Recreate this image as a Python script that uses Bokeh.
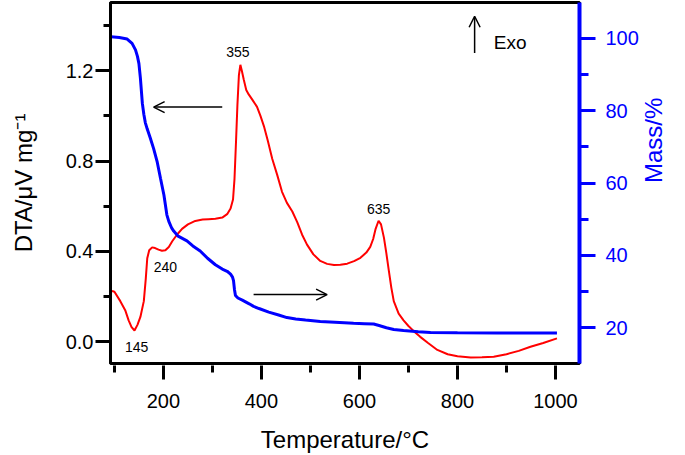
import math
from bokeh.plotting import figure
from bokeh.models import Range1d, LinearAxis, FixedTicker, Arrow, OpenHead, Label
from bokeh.embed import file_html
from bokeh.resources import INLINE

# DTA curve (red)
dta_t = [95, 100, 112, 122, 129, 135, 141, 147, 153, 160, 164, 167, 171, 177, 183, 190, 197, 204, 211, 218,
         228, 238, 250, 265, 280, 292, 306, 320, 330, 337, 342, 345, 348, 351, 354, 357, 360, 364, 369, 374,
         382, 391, 398, 405, 413, 422, 432, 442, 452, 463, 473, 483, 493, 506, 520, 534, 548, 561, 575, 589,
         602, 614, 622, 628, 633, 639, 644, 650, 655, 660, 665, 670, 680, 690, 700, 712, 724, 740, 759, 780,
         800, 827, 850, 874, 900, 925, 949, 975, 1003]
dta_v = [0.225, 0.222, 0.18, 0.14, 0.095, 0.065, 0.05, 0.075, 0.11, 0.18, 0.28, 0.37, 0.405, 0.418, 0.415, 0.408, 0.403, 0.405, 0.42, 0.445,
         0.475, 0.50, 0.52, 0.535, 0.541, 0.543, 0.545, 0.55, 0.565, 0.59, 0.63, 0.72, 0.88, 1.05, 1.18, 1.226, 1.20, 1.16, 1.115, 1.095,
         1.07, 1.04, 1.0, 0.955, 0.89, 0.81, 0.74, 0.664, 0.615, 0.577, 0.53, 0.474, 0.43, 0.387, 0.358, 0.345, 0.34, 0.341, 0.346, 0.357,
         0.372, 0.395, 0.42, 0.455, 0.50, 0.536, 0.52, 0.46, 0.39, 0.314, 0.24, 0.18, 0.125, 0.095, 0.07, 0.045, 0.022, -0.005, -0.036, -0.055,
         -0.064, -0.069, -0.068, -0.066, -0.055, -0.04, -0.022, -0.005, 0.015]

# Mass curve (blue)
mass_t = [93, 110, 126, 136, 143, 147, 150, 153, 157, 160, 163, 167, 173, 180, 187, 194, 201, 207, 211, 217,
          221, 230, 248, 260, 275, 290, 306, 320, 330, 337, 341, 343, 345, 347, 352, 361, 375, 384, 395, 415,
          435, 452, 470, 490, 520, 550, 588, 610, 629, 640, 655, 670, 690, 720, 745, 800, 881, 950, 1003]
mass_v = [100.4, 100.2, 99.8, 98.6, 96.8, 95.0, 93.0, 89.0, 82.0, 79.0, 76.7, 74.9, 72.5, 69.5, 66.0, 61.3, 56.7, 51.2, 49.4, 47.5,
          46.7, 45.3, 44.0, 42.6, 41.2, 39.2, 37.4, 36.2, 35.6, 34.8, 34.0, 33.0, 30.5, 28.9, 28.2, 27.6, 26.6, 25.9, 25.3, 24.3,
          23.5, 22.8, 22.4, 22.1, 21.7, 21.5, 21.2, 21.1, 21.0, 20.6, 20.0, 19.5, 19.2, 18.9, 18.7, 18.6, 18.5, 18.5, 18.5]

x_major = [200, 400, 600, 800, 1000]
x_minor = [100, 300, 500, 700, 900]
y_major = [0.0, 0.4, 0.8, 1.2]
y_minor = [0.2, 0.6, 1.0, 1.4]
y_labels = ["0.0", "0.4", "0.8", "1.2"]
m_major = [20, 40, 60, 80, 100]
m_minor = [30, 50, 70, 90]
mass_title = "Mass/%"
mass_title_start = 47.6

peak_labels = ["145", "240", "355", "635"]
peak_t = [145.5, 204, 352, 639]
peak_v = [-0.025, 0.333, 1.282, 0.587]

FONT = "Liberation Sans"
RED = "#FF0000"
BLUE = "#0000FF"

p = figure(width=685, height=455, x_range=Range1d(92, 1049), y_range=Range1d(-0.096, 1.502),
           output_backend="svg", toolbar_location=None,
           min_border_left=110, min_border_right=106, min_border_top=2, min_border_bottom=88)
p.extra_y_ranges = {"mass": Range1d(10.1, 109.9)}
p.grid.visible = False
p.outline_line_color = "black"
p.outline_line_width = 3
p.outline_line_alpha = 1.0
p.background_fill_color = "white"
p.border_fill_color = "white"

# x axis
xa = p.xaxis[0]
xa.ticker = FixedTicker(ticks=x_major, minor_ticks=x_minor)
xa.axis_line_color = None
xa.major_tick_in = -2
xa.major_tick_out = 16
xa.minor_tick_in = -2
xa.minor_tick_out = 9
xa.major_tick_line_width = 3
xa.minor_tick_line_width = 3
xa.major_tick_line_color = "black"
xa.minor_tick_line_color = "black"
xa.major_label_text_font = FONT
xa.major_label_text_font_size = "20px"
xa.major_label_text_color = "black"
xa.major_label_standoff = 14
xa.axis_label = "Temperature/°C"
xa.axis_label_text_font = FONT
xa.axis_label_text_font_size = "24px"
xa.axis_label_text_font_style = "normal"
xa.axis_label_text_color = "black"
xa.axis_label_standoff = 15

# left axis
ya = p.yaxis[0]
ya.ticker = FixedTicker(ticks=y_major, minor_ticks=y_minor)
ya.major_label_overrides = {v: s for v, s in zip(y_major, y_labels)}
ya.axis_line_width = 3
ya.axis_line_color = "black"
ya.major_tick_in = 0
ya.major_tick_out = 15
ya.minor_tick_in = 0
ya.minor_tick_out = 7
ya.major_tick_line_width = 3
ya.minor_tick_line_width = 3
ya.major_tick_line_color = "black"
ya.minor_tick_line_color = "black"
ya.major_label_text_font = FONT
ya.major_label_text_font_size = "20px"
ya.major_label_text_color = "black"
ya.major_label_standoff = 2
ya.axis_label = "DTA/μV mg⁻¹"
ya.axis_label_text_font = FONT
ya.axis_label_text_font_size = "24px"
ya.axis_label_text_font_style = "normal"
ya.axis_label_text_color = "black"
ya.axis_label_standoff = 26

# right axis
ra = LinearAxis(y_range_name="mass")
ra.ticker = FixedTicker(ticks=m_major, minor_ticks=m_minor)
ra.axis_line_color = BLUE
ra.axis_line_width = 4
ra.major_tick_in = 0
ra.major_tick_out = 16
ra.minor_tick_in = 0
ra.minor_tick_out = 9
ra.major_tick_line_color = BLUE
ra.minor_tick_line_color = BLUE
ra.major_tick_line_width = 3
ra.minor_tick_line_width = 3
ra.major_label_text_font = FONT
ra.major_label_text_font_size = "20px"
ra.major_label_text_color = BLUE
ra.major_label_standoff = 10
p.add_layout(ra, "right")

if "axis_label_orientation" in LinearAxis.properties():
    # right axis title, reading bottom-to-top
    ra.axis_label = mass_title
    ra.axis_label_orientation = math.pi / 2
    ra.axis_label_text_font = FONT
    ra.axis_label_text_font_size = "24px"
    ra.axis_label_text_font_style = "normal"
    ra.axis_label_text_color = BLUE
    ra.axis_label_text_align = "center"
    ra.axis_label_text_baseline = "middle"
    ra.axis_label_standoff = 12
else:
    # fallback: rotated label of a bare axis
    rt = LinearAxis(y_range_name="mass")
    rt.ticker = FixedTicker(ticks=[mass_title_start], minor_ticks=[])
    rt.major_label_overrides = {mass_title_start: mass_title}
    rt.major_label_orientation = math.pi / 2
    rt.axis_line_color = None
    rt.major_tick_line_color = None
    rt.minor_tick_line_color = None
    rt.major_tick_in = 0
    rt.major_tick_out = 0
    rt.minor_tick_in = 0
    rt.minor_tick_out = 0
    rt.major_label_text_font = FONT
    rt.major_label_text_font_size = "24px"
    rt.major_label_text_color = BLUE
    rt.major_label_standoff = 22
    p.add_layout(rt, "right")

p.line(dta_t, dta_v, line_color=RED, line_width=2)
p.line(mass_t, mass_v, line_color=BLUE, line_width=3, y_range_name="mass")

for s, t, v in zip(peak_labels, peak_t, peak_v):
    p.add_layout(Label(x=t, y=v, text=s, text_font=FONT, text_font_size="14px",
                       text_align="center", text_baseline="middle", text_color="black"))

p.add_layout(Label(x=874, y=1.327, text="Exo", text_font=FONT, text_font_size="19px",
                   text_align="left", text_baseline="middle", text_color="black"))

arrow_head = dict(size=11, line_width=1.5, line_color="black")
p.add_layout(Arrow(end=OpenHead(**arrow_head), x_start=835, y_start=1.278, x_end=835, y_end=1.441,
                   line_width=1.5, line_color="black"))
p.add_layout(Arrow(end=OpenHead(**arrow_head), x_start=320, y_start=1.039, x_end=180, y_end=1.039,
                   line_width=1.5, line_color="black"))
p.add_layout(Arrow(end=OpenHead(**arrow_head), x_start=384, y_start=0.209, x_end=534, y_end=0.209,
                   line_width=1.5, line_color="black"))

open("out.html", "w").write(file_html(p, INLINE))
